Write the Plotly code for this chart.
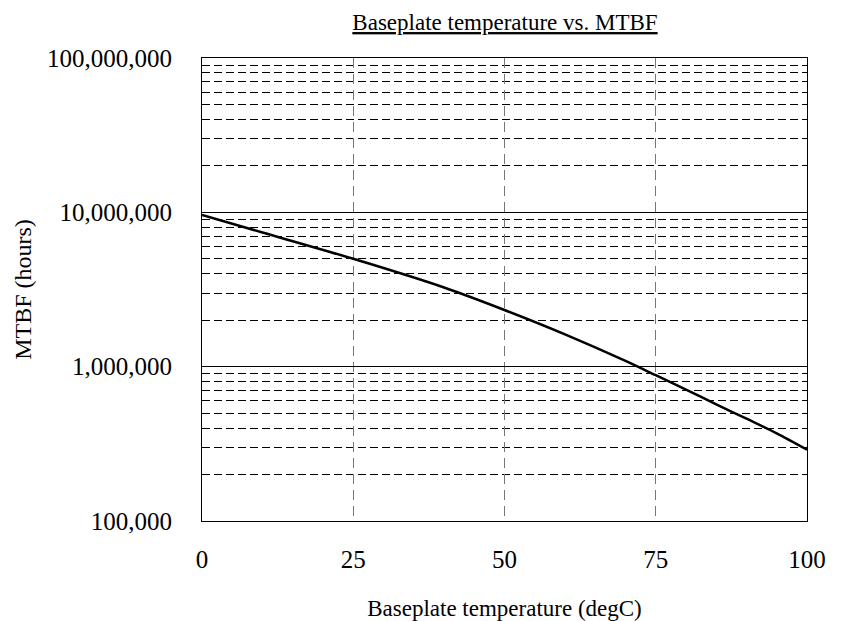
import plotly.graph_objects as go

# Data
temperature_degC = [0, 10, 25, 40, 50, 60, 70, 75, 80, 85, 90, 95, 100]
mtbf_hours = [9.6e6, 7.4e6, 5.0e6, 3.26e6, 2.33e6, 1.62e6, 1.09e6,
              0.88e6, 0.71e6, 0.57e6, 0.46e6, 0.37e6, 0.29e6]

y_tick_vals = [1e5, 1e6, 1e7, 1e8]
y_tick_text = ["100,000", "1,000,000", "10,000,000", "100,000,000"]
y_minor_vals = [k * 10 ** d for d in (5, 6, 7) for k in range(2, 10)]
x_tick_vals = [0, 25, 50, 75, 100]

title_text = "Baseplate temperature vs. MTBF"
x_title = "Baseplate temperature (degC)"
y_title = "MTBF (hours)"

FONT = "Liberation Serif, Times New Roman, serif"

# The page body adds an 8px offset; the figure is sized to fit the window.
W, H = 835, 613

fig = go.Figure()
fig.add_trace(go.Scatter(
    x=temperature_degC, y=mtbf_hours, mode="lines",
    line=dict(color="black", width=2.5, shape="spline", smoothing=0.8),
    showlegend=False,
))

fig.update_layout(
    width=W, height=H,
    margin=dict(l=194, r=36, t=50, b=100),
    paper_bgcolor="white", plot_bgcolor="white",
    font=dict(family=FONT, color="black"),
    title=dict(
        text=title_text, x=497 / W, xref="container", xanchor="center",
        y=1 - 14 / H, yref="container", yanchor="middle",
        font=dict(family=FONT, size=23, color="black", lineposition="under"),
    ),
)

fig.update_xaxes(
    range=[0, 100], tickvals=x_tick_vals,
    ticks="outside", ticklen=16, tickcolor="rgba(0,0,0,0)",
    tickfont=dict(family=FONT, size=25),
    showline=True, linecolor="black", linewidth=1, mirror=True,
    showgrid=True, gridcolor="#777777", gridwidth=1, griddash="10px,6px",
    zeroline=False, automargin=False,
    title=dict(text=x_title, font=dict(family=FONT, size=23), standoff=28),
)

fig.update_yaxes(
    type="log", range=[5, 8],
    tickvals=y_tick_vals, ticktext=y_tick_text,
    ticks="outside", ticklen=24, tickcolor="rgba(0,0,0,0)",
    tickfont=dict(family=FONT, size=25),
    showline=True, linecolor="black", linewidth=1, mirror=True,
    showgrid=True, gridcolor="black", gridwidth=1,
    minor=dict(tickvals=y_minor_vals, showgrid=True, gridcolor="black",
               gridwidth=1, griddash="8px,4px", ticks=""),
    zeroline=False, automargin=False,
    title=dict(text=y_title, font=dict(family=FONT, size=24), standoff=8),
)

fig.write_html("out.html")
